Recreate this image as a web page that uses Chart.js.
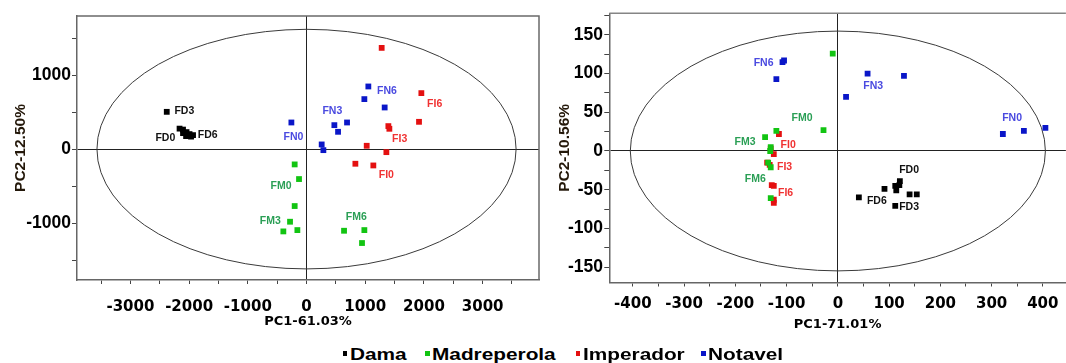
<!DOCTYPE html>
<html>
<head>
<meta charset="utf-8">
<script src="https://cdn.jsdelivr.net/npm/chart.js@4.4.1/dist/chart.umd.min.js"></script>
<style>
  html, body { margin: 0; padding: 0; background: #fff; overflow: hidden; width: 1066px; height: 363px; }
  #wrap { position: relative; width: 1066px; height: 363px; overflow: hidden; }
  #left { position: absolute; left: 0; top: 0; }
  #right { position: absolute; left: 540px; top: 0; }
  .sw { position: absolute; top: 351px; width: 4.5px; height: 4.5px; }
  .lt { position: absolute; top: 346.5px; font: bold 16px "Liberation Sans", Arial, sans-serif; line-height: 16px;
        color: #000; transform: scaleX(1.3); transform-origin: 0 0; white-space: nowrap; }
</style>
</head>
<body>
<div id="wrap">
  <canvas id="left" width="545" height="340"></canvas>
  <canvas id="right" width="530" height="340"></canvas>
  <div id="legend"></div>
</div>
<script>
// Score plots: PC1 vs PC2 for the four cultivars (three storage times each)
const groups = ['Dama', 'Madreperola', 'Imperador', 'Notavel'];
const groupColors = ['#000000', '#12c412', '#e41010', '#0a16c8'];
const tagColors = { FD: '#111111', FM: '#2a9f55', FI: '#f03232', FN: '#4a4ae0' };

// Left panel (PC1 61.03 %, PC2 12.50 %)
const damaA  = [[-2381,504],[-2163,277],[-2104,264],[-2044,230],[-1993,203],[-2052,176],[-1967,169],[-2104,216],[-1933,189]];
const madreA = [[-202,-207],[-128,-405],[-202,-770],[-281,-982],[-395,-1113],[-156,-1095],[639,-1104],[985,-1095],[945,-1270]];
const impA   = [[1280,1369],[1956,757],[1916,369],[1394,311],[1411,275],[1025,45],[1360,-41],[832,-198],[1138,-221]];
const notA   = [[-258,360],[258,63],[287,-14],[474,324],[537,234],[690,360],[985,676],[1053,847],[1331,563]];
const tagsA     = ['FD3','FD0','FD6','FN0','FN3','FN6','FI6','FI3','FI0','FM0','FM3','FM6'];
const tagsA_pc1 = [-2081,-2405,-1683,-224,440,1371,2183,1587,1360,-434,-616,849];
const tagsA_pc2 = [509,149,194,158,514,779,604,135,-351,-505,-973,-914];
const xLabelsA = [-3000,-2000,-1000,0,1000,2000,3000];
const yLabelsA = [-1000,0,1000];

// Right panel (PC1 71.01 %, PC2 10.56 %)
const damaB  = [[121,-39],[120,-44],[112,-45],[114,-51],[91,-49],[140,-56],[154,-56],[41,-60],[112,-71]];
const madreB = [[-10,126],[-28,27],[-120,26],[-142,18],[-131,5],[-132,0],[-136,-15],[-131,-21],[-131,-61]];
const impB   = [[-115,22],[-125,-4],[-138,-15],[-129,-44],[-125,-45],[-125,-63],[-125,-67],[-131,3],[-133,-18]];
const notB   = [[-108,115],[-105,117],[-120,93],[58,100],[129,97],[16,70],[322,22],[363,26],[405,30]];
const tagsB     = ['FN6','FN3','FN0','FM0','FM3','FM6','FI0','FI3','FI6','FD0','FD6','FD3'];
const tagsB_pc1 = [-145,69,340,-70,-181,-161,-97,-104,-102,139,76,139];
const tagsB_pc2 = [113,84,43,42,11,-36,8,-21,-55,-25,-65,-73];
const xLabelsB = [-400,-300,-200,-100,0,100,200,300,400];
const yLabelsB = [-150,-100,-50,0,50,100,150];

// Hotelling confidence ellipse half-axes in score units
const ellipseA = { rx: 3570, ry: 1620 };
const ellipseB = { rx: 405, ry: 155 };

// Tick mark positions (labelled and minor)
function steps(from, to, step) { const out = []; for (let v = from; v <= to + 1e-9; v += step) out.push(v); return out; }
const xTicksA = steps(-3500, 3500, 500);
const yTicksA = steps(-1500, 1500, 500);
const xTicksB = steps(-400, 400, 50);
const yTicksB = steps(-150, 175, 25);

function toXY(arr) { return arr.map(p => ({ x: p[0], y: p[1] })); }
function datasets(sets) {
  return sets.map((s, i) => ({
    label: groups[i], data: toXY(s), pointStyle: 'rect', pointRadius: 4.1,
    backgroundColor: groupColors[i], borderWidth: 0, showLine: false
  }));
}
function tagList(names, pc1, pc2) {
  return names.map((t, i) => ({ text: t, x: pc1[i], y: pc2[i], color: tagColors[t.slice(0, 2)] }));
}

const ellipsePlugin = {
  id: 'ellipse',
  beforeDatasetsDraw(chart, args, o) {
    const { ctx, chartArea: a, scales: { x, y } } = chart;
    const cx = x.getPixelForValue(0), cy = y.getPixelForValue(0);
    const rx = Math.abs(x.getPixelForValue(o.rx) - cx), ry = Math.abs(y.getPixelForValue(o.ry) - cy);
    ctx.save();
    ctx.beginPath(); ctx.rect(a.left, a.top, a.right - a.left, a.bottom - a.top); ctx.clip();
    ctx.beginPath(); ctx.ellipse(cx, cy, rx, ry, 0, 0, Math.PI * 2);
    ctx.strokeStyle = '#3a3a3a'; ctx.lineWidth = 1; ctx.stroke();
    ctx.restore();
  }
};
const framePlugin = {
  id: 'frame',
  afterDraw(chart, args, o) {
    const { ctx, chartArea: a } = chart;
    ctx.save(); ctx.strokeStyle = o.color; ctx.lineWidth = 1.5;
    ctx.beginPath(); ctx.moveTo(a.left, a.top); ctx.lineTo(a.right, a.top);
    if (o.right) ctx.lineTo(a.right, a.bottom);
    ctx.stroke(); ctx.restore();
  }
};
const tagPlugin = {
  id: 'tags',
  afterDatasetsDraw(chart, args, o) {
    const { ctx, scales: { x, y } } = chart;
    ctx.save();
    ctx.font = 'bold 10.5px "Liberation Sans", Arial, sans-serif';
    ctx.textAlign = 'center'; ctx.textBaseline = 'middle';
    o.items.forEach(t => { ctx.fillStyle = t.color; ctx.fillText(t.text, x.getPixelForValue(t.x), y.getPixelForValue(t.y)); });
    ctx.restore();
  }
};

const zeroGrid = c => (c.tick && Math.abs(c.tick.value) < 1e-9) ? '#222' : 'rgba(0,0,0,0)';
const xTickFont = { family: 'DejaVu Sans', weight: 'bold', size: 15 };
const yTickFont = { family: 'Liberation Sans', weight: 'bold', size: 17.5 };
const xTitleFont = { family: 'DejaVu Sans', weight: 'bold', size: 13 };
const yTitleFont = { family: 'Liberation Sans', weight: 'bold', size: 15.5 };

function makeChart(id, cfg) {
  return new Chart(document.getElementById(id), {
    type: 'scatter',
    data: { datasets: datasets(cfg.sets) },
    options: {
      responsive: false, animation: false, events: [],
      layout: { padding: { top: cfg.top, right: cfg.right, left: 0, bottom: 0 } },
      plugins: {
        legend: { display: false }, tooltip: { enabled: false },
        ellipse: cfg.ellipse, frame: { color: cfg.frameColor, right: cfg.frameRight },
        tags: { items: cfg.tags }
      },
      scales: {
        x: {
          type: 'linear', min: cfg.xMin, max: cfg.xMax,
          afterBuildTicks: s => { s.ticks = cfg.xTicks.map(v => ({ value: v })); },
          afterFit: s => { s.height = 340 - cfg.bottom; },
          ticks: { autoSkip: false, maxRotation: 0, padding: cfg.xPad, color: '#000', font: xTickFont,
                   callback: v => cfg.xLabels.includes(Math.round(v)) ? String(Math.round(v)) : '' },
          grid: { color: zeroGrid, tickColor: '#444', tickLength: 4, lineWidth: 1 },
          border: { color: '#666', width: 1.5 },
          title: { display: true, text: cfg.xTitle, color: '#000', font: xTitleFont, padding: { top: 0, bottom: cfg.xTitlePad } }
        },
        y: {
          type: 'linear', min: cfg.yMin, max: cfg.yMax,
          afterBuildTicks: s => { s.ticks = cfg.yTicks.map(v => ({ value: v })); },
          afterFit: s => { s.width = cfg.left; },
          ticks: { autoSkip: false, padding: cfg.yPad, color: '#000', font: yTickFont,
                   callback: v => cfg.yLabels.includes(Math.round(v)) ? String(Math.round(v)) : '' },
          grid: { color: zeroGrid, tickColor: '#444', tickLength: 5, lineWidth: 1 },
          border: { color: '#666', width: 1.5 },
          title: { display: true, text: cfg.yTitle, color: '#24180a', font: yTitleFont, padding: { top: cfg.yTitlePad, bottom: 0 } }
        }
      }
    },
    plugins: [ellipsePlugin, framePlugin, tagPlugin]
  });
}

makeChart('left', {
  sets: [damaA, madreA, impA, notA], tags: tagList(tagsA, tagsA_pc1, tagsA_pc2), ellipse: ellipseA,
  xMin: -3910, xMax: 3960, xTicks: xTicksA, xLabels: xLabelsA, xTitle: 'PC1-61.03%',
  yMin: -1770, yMax: 1800, yTicks: yTicksA, yLabels: yLabelsA, yTitle: 'PC2-12.50%',
  top: 16, right: 6, left: 77, bottom: 280, xPad: 14.5, yPad: 1, xTitlePad: 10.5, yTitlePad: 11,
  frameColor: '#6a6a6a', frameRight: true
});
makeChart('right', {
  sets: [damaB, madreB, impB, notB], tags: tagList(tagsB, tagsB_pc1, tagsB_pc2), ellipse: ellipseB,
  xMin: -446, xMax: 445, xTicks: xTicksB, xLabels: xLabelsB, xTitle: 'PC1-71.01%',
  yMin: -170, yMax: 178, yTicks: yTicksB, yLabels: yLabelsB, yTitle: 'PC2-10.56%',
  top: 13.3, right: 0, left: 69.3, bottom: 282.5, xPad: 9, yPad: 1.3, xTitlePad: 7.2, yTitlePad: 15,
  frameColor: '#858585', frameRight: false
});

// Shared legend under both panels
const legendX = [342.7, 425, 575.7, 701];
const legend = document.getElementById('legend');
groups.forEach((g, i) => {
  const sw = document.createElement('div');
  sw.className = 'sw'; sw.style.left = legendX[i] + 'px'; sw.style.background = groupColors[i];
  const t = document.createElement('div');
  t.className = 'lt'; t.style.left = (legendX[i] + 7) + 'px'; t.textContent = g;
  legend.appendChild(sw); legend.appendChild(t);
});
</script>
</body>
</html>
